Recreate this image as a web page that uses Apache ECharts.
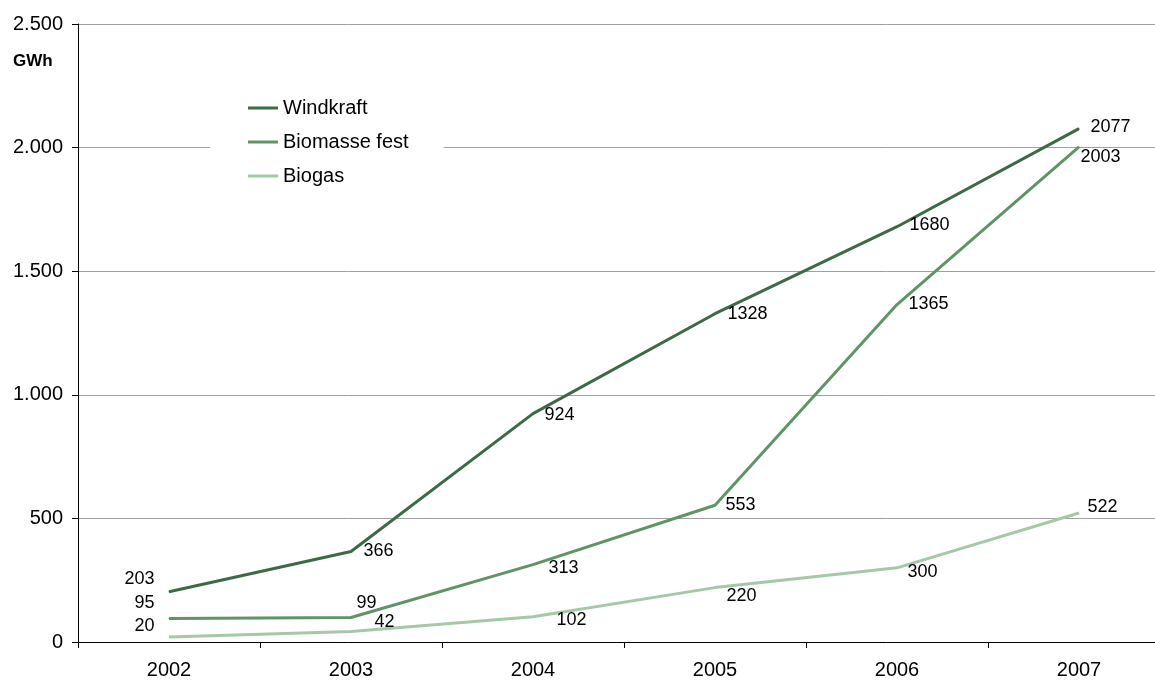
<!DOCTYPE html>
<html>
<head>
<meta charset="utf-8">
<script src="https://cdn.jsdelivr.net/npm/echarts@6/dist/echarts.min.js"></script>
<style>html,body{margin:0;padding:0;background:#fff;overflow:hidden}#c{width:1155px;height:680px}</style>
</head>
<body>
<div id="c"></div>
<script>
var categories = ['2002', '2003', '2004', '2005', '2006', '2007'];
var windkraft = [203, 366, 924, 1328, 1680, 2077];
var biomasseFest = [95, 99, 313, 553, 1365, 2003];
var biogas = [20, 42, 102, 220, 300, 522];
var seriesNames = ['Windkraft', 'Biomasse fest', 'Biogas'];
var unitLabel = 'GWh';

// label placement (style only): [position, dx, dy]
var labelPlace = [
  [['left', 0, -13], ['right', 12, 0], ['right', 11, 1], ['right', 12, 0], ['right', 12, -2], ['right', 11, -2]],
  [['left', 0, -15], ['right', 5, -14], ['right', 15, 3], ['right', 10, 0], ['right', 11, -1], ['right', 1, 10]],
  [['left', 0, -11], ['right', 23, -10], ['right', 23, 3], ['right', 11, 8], ['right', 10, 4], ['right', 8, -6]]
];
var colors = ['#3d6a46', '#5f9467', '#a5c9a6'];
var FONT = 'Liberation Sans, Arial, sans-serif';

function buildData(vals, si) {
  return vals.map(function (v, i) {
    var p = labelPlace[si][i];
    return {
      value: v,
      label: {
        position: p[0],
        distance: p[0] === 'left' ? 14 : 0,
        offset: [p[0] === 'left' ? 0 : p[1], p[2]]
      }
    };
  });
}

var allVals = [windkraft, biomasseFest, biogas];
var series = allVals.map(function (vals, si) {
  return {
    name: seriesNames[si],
    type: 'line',
    data: buildData(vals, si),
    symbol: 'circle',
    symbolSize: 1,
    showSymbol: true,
    itemStyle: { color: colors[si] },
    lineStyle: { color: colors[si], width: 3 },
    label: {
      show: true,
      color: '#000',
      fontSize: 18,
      fontFamily: FONT
    },
    emphasis: { disabled: true },
    animation: false,
    z: 3 - si
  };
});

var chart = echarts.init(document.getElementById('c'), null, { renderer: 'canvas' });
chart.setOption({
  backgroundColor: '#fff',
  animation: false,
  grid: { left: 78, top: 24, bottom: 38, width: 1092, containLabel: false, outerBoundsMode: 'none' },
  legend: {
    orient: 'vertical',
    left: 210,
    top: 92,
    padding: [6, 35, 6, 38],
    backgroundColor: '#fff',
    itemWidth: 30,
    itemHeight: 3,
    itemGap: 14,
    icon: 'rect',
    data: seriesNames,
    textStyle: { color: '#000', fontSize: 20, fontFamily: FONT },
    z: 10
  },
  graphic: [{
    type: 'text',
    left: 13,
    top: 53,
    style: { text: unitLabel, fontSize: 17, fontWeight: 'bold', fontFamily: FONT, fill: '#000' }
  }],
  xAxis: {
    type: 'category',
    data: categories,
    boundaryGap: true,
    axisLine: { lineStyle: { color: '#000', width: 1 } },
    axisTick: { show: true, length: 6, lineStyle: { color: '#000' } },
    axisLabel: { color: '#000', fontSize: 20, fontFamily: FONT, margin: 18 },
    splitLine: { show: false }
  },
  yAxis: {
    type: 'value',
    min: 0,
    max: 2500,
    interval: 500,
    axisLine: { show: true, lineStyle: { color: '#000', width: 1 } },
    axisTick: { show: true, length: 6, lineStyle: { color: '#000' } },
    axisLabel: {
      color: '#000', fontSize: 20, fontFamily: FONT, margin: 15,
      formatter: function (v) { return String(v).replace(/\B(?=(\d{3})+(?!\d))/g, '.'); }
    },
    splitLine: { show: true, lineStyle: { color: '#a0a0a0', width: 1 } }
  },
  series: series
});
</script>
</body>
</html>
